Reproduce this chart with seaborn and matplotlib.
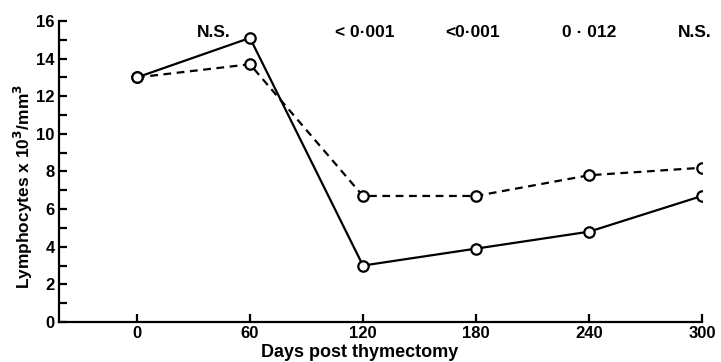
import numpy as np
import pandas as pd
import seaborn as sns
import matplotlib.pyplot as plt
from matplotlib.ticker import MultipleLocator

# Values
days = [0, 60, 120, 180, 240, 300]
solid_vals = [13.0, 15.1, 3.0, 3.9, 4.8, 6.7]
dashed_vals = [13.0, 13.7, 6.7, 6.7, 7.8, 8.2]
p_labels = ["N.S.", "< 0·001", "<0·001", "0 · 012", "N.S."]
p_days = [41, 121, 178, 240, 296]
p_level = 15.4

sns.set_style("ticks")
plt.rcParams["font.family"] = ["Liberation Sans", "DejaVu Sans"]
plt.rcParams["font.weight"] = "bold"
plt.rcParams["text.color"] = "black"
plt.rcParams["axes.labelcolor"] = "black"
plt.rcParams["xtick.color"] = "black"
plt.rcParams["ytick.color"] = "black"
plt.rcParams["axes.edgecolor"] = "black"

df = pd.DataFrame({
    "Days": days * 2,
    "Lymph": solid_vals + dashed_vals,
    "group": ["solid"] * len(days) + ["dashed"] * len(days),
})

fig = plt.figure(figsize=(7.21, 3.62), dpi=100)
ax = fig.add_axes([0.0818, 0.1105, 0.8918, 0.8315])

marker_kw = dict(marker="o", markersize=7.5, markerfacecolor="white",
                 markeredgecolor="black", markeredgewidth=1.6)

sns.lineplot(data=df[df.group == "dashed"], x="Days", y="Lymph", ax=ax,
             color="black", linewidth=1.6, linestyle=(0, (3.5, 2.5)), **marker_kw)
sns.lineplot(data=df[df.group == "solid"], x="Days", y="Lymph", ax=ax,
             color="black", linewidth=1.6, **marker_kw)

for d, lab in zip(p_days, p_labels):
    ax.text(d, p_level, lab, ha="center", va="center", fontsize=12.5,
            fontweight="bold")

ax.set_xlim(-41.4, 300)
ax.set_ylim(0, 16)
ax.set_xticks(days)
ax.yaxis.set_major_locator(MultipleLocator(2))
ax.yaxis.set_minor_locator(MultipleLocator(1))
ax.tick_params(axis="both", which="both", direction="in", width=1.6,
               labelsize=12, pad=3)
ax.tick_params(axis="both", which="major", length=6)
ax.tick_params(axis="y", which="minor", length=6)

sns.despine(ax=ax)
for s in ["left", "bottom"]:
    ax.spines[s].set_linewidth(1.6)

ax.set_xlabel("Days post thymectomy", fontsize=13, fontweight="bold")
ax.set_ylabel("Lymphocytes x 10$^3$/mm$^3$", fontsize=12.5, fontweight="bold")
ax.xaxis.set_label_coords(0.467, -0.072)
ax.yaxis.set_label_coords(-0.037, 0.45)

fig.savefig("out.png", dpi=100)
